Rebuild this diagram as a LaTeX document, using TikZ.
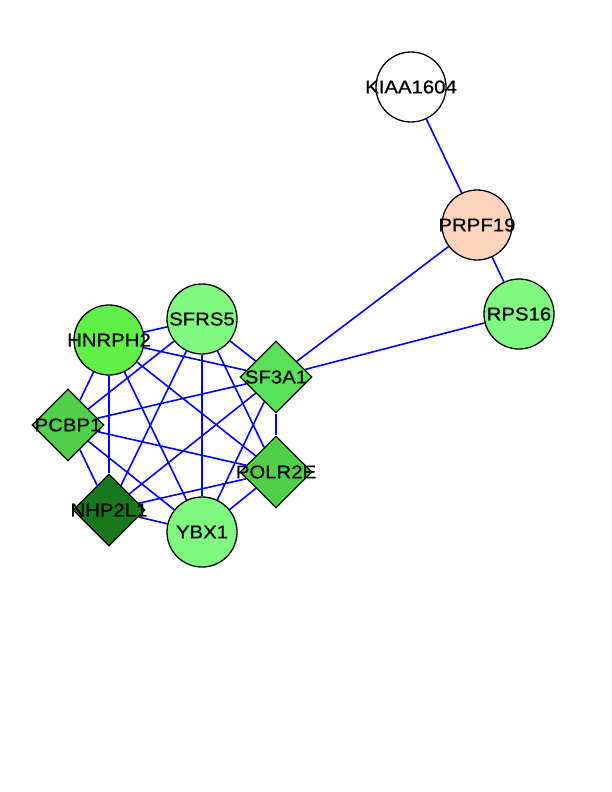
\documentclass[tikz,border=0pt]{standalone}
\usepackage{fontspec}
\setmainfont{Liberation Sans}
\newfontfamily\genefont[FakeStretch=1.1,FakeBold=0.7]{Liberation Sans}
\usetikzlibrary{shapes.geometric,backgrounds}
\definecolor{gLight}{RGB}{128,250,128}
\definecolor{gBright}{RGB}{96,240,72}
\definecolor{gMid}{RGB}{90,225,90}
\definecolor{gMid2}{RGB}{80,208,72}
\definecolor{gDark}{RGB}{25,120,30}
\definecolor{peach}{RGB}{255,212,188}
\definecolor{edgeblue}{RGB}{0,0,255}
\tikzset{
  x=1pt, y=-1pt,
  gene/.style={draw=black, line width=1.3pt, inner sep=0pt,
    label={[font=\genefont\fontsize{18.5}{18.5}\selectfont, text=black]center:#1}},
  roundgene/.style={gene=#1, circle, minimum size=70pt},
  diagene/.style={gene=#1, diamond, minimum width=72pt, minimum height=72pt},
  link/.style={draw=edgeblue, line width=1.6pt}
}
\begin{document}
\begin{tikzpicture}
\useasboundingbox (0,0) rectangle (612,792);
% protein nodes
\node[roundgene=KIAA1604, fill=white] (kiaa) at (411,87) {};
\node[roundgene=PRPF19, fill=peach] (prpf) at (477,225) {};
\node[roundgene=RPS16, fill=gLight] (rps) at (519,314) {};
\node[roundgene=SFRS5, fill=gLight] (sfrs) at (202,319) {};
\node[roundgene=HNRPH2, fill=gBright] (hnrp) at (109,340) {};
\node[diagene=SF3A1, fill=gMid] (sf3a) at (276,377) {};
\node[diagene=PCBP1, fill=gMid2] (pcbp) at (68,425) {};
\node[diagene=POLR2E, fill=gMid2] (polr) at (276,472) {};
\node[diagene=NHP2L1, fill=gDark] (nhp) at (109,510) {};
\node[roundgene=YBX1, fill=gLight] (ybx) at (202,532) {};
% interactions
\begin{scope}[on background layer]
\path[link] (kiaa) -- (prpf);
\path[link] (prpf) -- (rps);
\path[link] (prpf) -- (sf3a);
\path[link] (rps) -- (sf3a);
\foreach \a/\b in {hnrp/sfrs, hnrp/sf3a, hnrp/polr, hnrp/ybx, hnrp/nhp, hnrp/pcbp,
  sfrs/sf3a, sfrs/polr, sfrs/ybx, sfrs/nhp, sfrs/pcbp,
  sf3a/polr, sf3a/ybx, sf3a/nhp, sf3a/pcbp,
  polr/ybx, polr/nhp, polr/pcbp,
  ybx/nhp, ybx/pcbp, nhp/pcbp}
  \path[link] (\a) -- (\b);
\end{scope}
\end{tikzpicture}
\end{document}
